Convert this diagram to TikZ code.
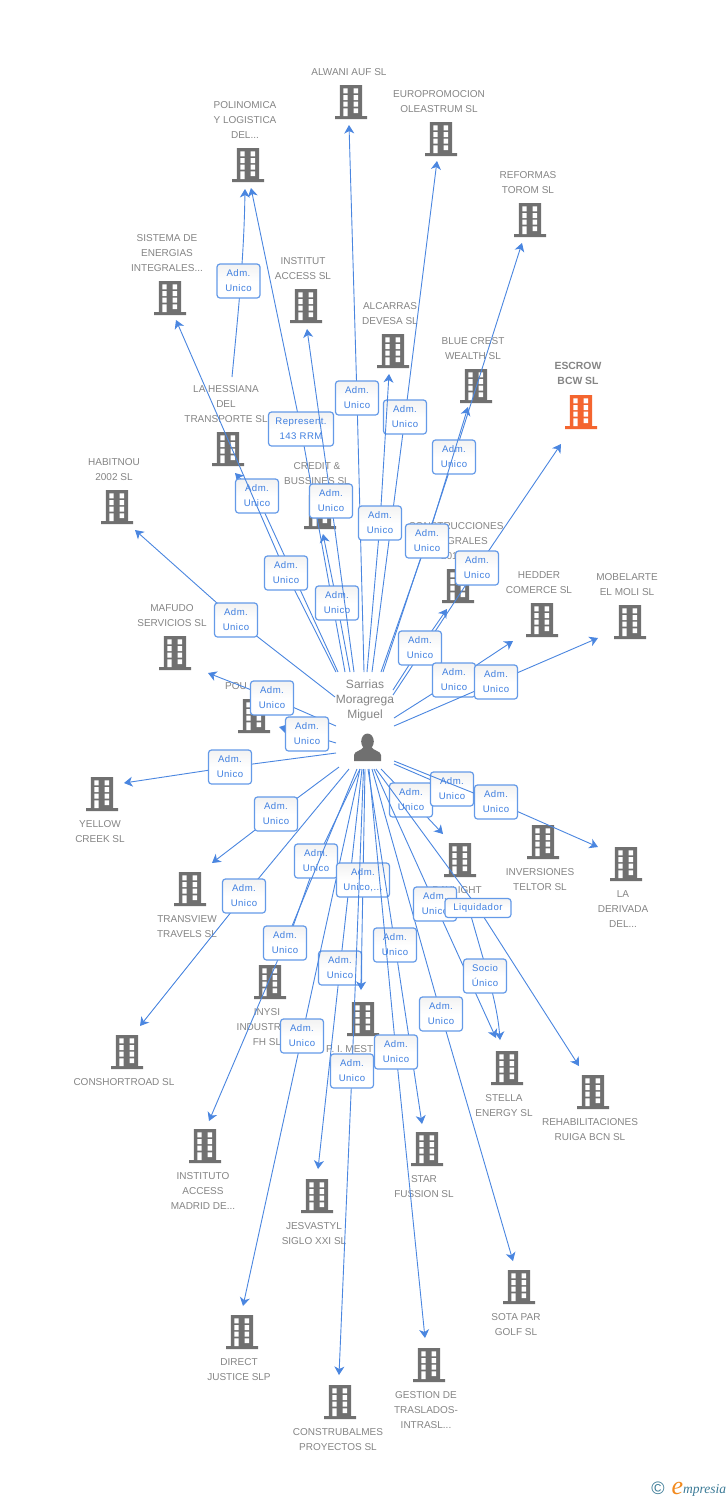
\documentclass[tikz,border=0pt]{standalone}
\usepackage{fontspec}
\setmainfont{Liberation Sans}
\newfontfamily\relfont[LetterSpace=5]{Liberation Sans}
\newfontfamily\logofont[Ligatures=TeX]{Liberation Serif}
\usetikzlibrary{arrows.meta}
\definecolor{bgrey}{HTML}{707070}
\definecolor{bor}{HTML}{F4652F}
\definecolor{tgrey}{HTML}{858585}
\definecolor{lnk}{HTML}{4A86E0}
\definecolor{bxb}{HTML}{649AE8}
\definecolor{bxt}{HTML}{3F7FE0}
\definecolor{logoteal}{HTML}{3A7A96}
\definecolor{logoor}{HTML}{F28A1E}
\tikzset{
 bld/.style={minimum width=32pt,minimum height=34pt,inner sep=0pt,outer sep=0pt,
  path picture={\begin{scope}[shift={(path picture bounding box.center)}]
   \fill[#1] (-11.2,-17) rectangle (11.2,14) (-16,14) rectangle (16,17);
   \fill[white] (-7.7,-13.7) rectangle (-3.3,-8.7) (2.5,-13.7) rectangle (7,-8.7)
     (-7.7,-7) rectangle (-3.3,-2) (2.5,-7) rectangle (7,-2)
     (-7.7,-.3) rectangle (-3.3,4.7) (2.5,-.3) rectangle (7,4.7)
     (-7.7,6.3) rectangle (-3.3,14) (2.5,6.3) rectangle (7,11);
  \end{scope}}},
 bld/.default=bgrey,
 persona/.style={minimum width=30pt,minimum height=34pt,inner sep=0pt,outer sep=0pt,
  path picture={\begin{scope}[shift={(path picture bounding box.center)}]
   \fill[bgrey] (0,-4.5) ellipse (6.3 and 8);
   \fill[bgrey] (-13.5,15) -- (-13.5,9) .. controls (-13.5,5) and (-6,5) .. (-4,1) -- (4,1)
     .. controls (6,5) and (13.5,5) .. (13.5,9) -- (13.5,15) -- cycle;
  \end{scope}}},
 lbl/.style={text=tgrey,align=center,inner sep=0pt,yshift=-.7pt,font=\fontsize{10}{15}\selectfont},
 lblb/.style={lbl,font=\fontsize{10.4}{15}\selectfont\bfseries},
 lblp/.style={lbl,font=\fontsize{12}{15}\selectfont},
 link/.style={draw=lnk,line width=.9pt},
 arrowed/.style={-{Stealth[length=8.5pt,width=10pt,inset=2.5pt]}},
 relbox/.style={rounded corners=3pt,draw=bxb,line width=1.2pt,top color=black!5,bottom color=white,middle color=white,
   text=bxt,align=center,inner sep=0pt,minimum width=43pt,minimum height=34pt,font=\relfont\fontsize{9.6}{15}\selectfont},
 widebox/.style={relbox,minimum width=65pt},
 midbox/.style={relbox,minimum width=53pt},
 slimbox/.style={relbox,minimum width=66pt,minimum height=19pt},
}
% id, start, box position, end, box style, text
\newcommand{\rel}[6]{%
  \coordinate (s#1) at (#2); \coordinate (m#1) at (#3); \coordinate (e#1) at (#4);
  \draw[link] (s#1) -- (m#1);
  \draw[link,arrowed] (m#1) -- (e#1);
  \node[#5] (r#1) at (m#1) {#6};
}
% id, start, control 1, control 2, end, box position, text
\newcommand{\relc}[7]{%
  \coordinate (s#1) at (#2); \coordinate (e#1) at (#5);
  \draw[link,arrowed] (s#1) .. controls (#3) and (#4) .. (e#1);
  \node[relbox] (r#1) at (#6) {#7};
}
\newcommand{\AU}{Adm.\\Unico}
\begin{document}
\begin{tikzpicture}[x=1pt,y=-1pt]
\useasboundingbox (0,0) rectangle (728,1500);
\fill[white] (0,0) rectangle (728,1500);
% buildings
\node[bld] (alwani) at (351,102) {};
\node[bld] (euro) at (441,139) {};
\node[bld] (reformas) at (530,220) {};
\node[bld] (polin) at (248,165) {};
\node[bld] (sistema) at (170,298) {};
\node[bld] (instacc) at (306,306) {};
\node[bld] (alcarras) at (393,351) {};
\node[bld] (bluecrest) at (476,386) {};
\node[bld=bor] (escrow) at (581,412) {};
\node[bld] (hessiana) at (228,449) {};
\node[bld] (habitnou) at (117,507) {};
\node[bld] (credit) at (320,512) {};
\node[bld] (constr) at (458,586) {};
\node[bld] (hedder) at (542,620) {};
\node[bld] (mobel) at (630,622) {};
\node[bld] (mafudo) at (175,653) {};
\node[bld] (pou) at (254,716) {};
\node[bld] (yellow) at (102,794) {};
\node[bld] (transview) at (190,889) {};
\node[bld] (invers) at (543,842) {};
\node[bld] (deriv) at (626,864) {};
\node[bld] (daylight) at (460,860) {};
\node[bld] (inysi) at (270,982) {};
\node[bld] (mest) at (363,1019) {};
\node[bld] (consh) at (127,1052) {};
\node[bld] (stella) at (507,1068) {};
\node[bld] (rehab) at (593,1092) {};
\node[bld] (instituto) at (205,1146) {};
\node[bld] (star) at (427,1149) {};
\node[bld] (jesva) at (317,1196) {};
\node[bld] (sota) at (519,1287) {};
\node[bld] (direct) at (242,1332) {};
\node[bld] (gestion) at (429,1365) {};
\node[bld] (construb) at (340,1402) {};
\node[persona] (sarrias) at (367.5,746) {};
% labels
\node[lbl] (l1) at (349,71) {ALWANI AUF SL};
\node[lbl] (l2) at (439,100.5) {EUROPROMOCION\\OLEASTRUM SL};
\node[lbl] (l3) at (528,181.5) {REFORMAS\\TOROM SL};
\node[lbl] (l4) at (245,119) {POLINOMICA\\Y LOGISTICA\\DEL...};
\node[lbl] (l5) at (167,252) {SISTEMA DE\\ENERGIAS\\INTEGRALES...};
\node[lbl] (l6) at (303,267.5) {INSTITUT\\ACCESS SL};
\node[lbl] (l7) at (390,312.5) {ALCARRAS\\DEVESA SL};
\node[lbl] (l8) at (473,347.5) {BLUE CREST\\WEALTH SL};
\node[lblb] (l9) at (578,372.5) {ESCROW\\BCW SL};
\node[lbl] (l10) at (226,403) {LA HESSIANA\\DEL\\TRANSPORTE SL};
\node[lbl] (l11) at (114,468.5) {HABITNOU\\2002 SL};
\node[lbl] (l12) at (317,472.5) {CREDIT \&\\BUSSINES SL};
\node[lbl] (l13) at (456,540) {CONSTRUCCIONES\\INTEGRALES\\2011...};
\node[lbl] (l14) at (539,581.5) {HEDDER\\COMERCE SL};
\node[lbl] (l15) at (627,583.5) {MOBELARTE\\EL MOLI SL};
\node[lbl] (l16) at (172,614.5) {MAFUDO\\SERVICIOS SL};
\node[lbl,anchor=west] (l17) at (225,685) {POU};
\node[lbl] (l18) at (100,830.5) {YELLOW\\CREEK SL};
\node[lbl] (l19) at (187,925.5) {TRANSVIEW\\TRAVELS SL};
\node[lbl] (l20) at (540,878.5) {INVERSIONES\\TELTOR SL};
\node[lbl] (l21) at (623,908) {LA\\DERIVADA\\DEL...};
\node[lbl] (l22) at (457,889) {DAYLIGHT};
\node[lbl] (l23) at (267,1026) {INYSI\\INDUSTRIES\\FH SL};
\node[lbl,anchor=west] (l24) at (326,1048) {P. I. MEST};
\node[lbl] (l25) at (124,1081) {CONSHORTROAD SL};
\node[lbl] (l26) at (504,1104.5) {STELLA\\ENERGY SL};
\node[lbl] (l27) at (590,1128.5) {REHABILITACIONES\\RUIGA BCN SL};
\node[lbl] (l28) at (203,1190) {INSTITUTO\\ACCESS\\MADRID DE...};
\node[lbl] (l29) at (424,1185.5) {STAR\\FUSSION SL};
\node[lbl] (l30) at (314,1232.5) {JESVASTYL\\SIGLO XXI SL};
\node[lbl] (l31) at (516,1323.5) {SOTA PAR\\GOLF SL};
\node[lbl] (l32) at (239,1368.5) {DIRECT\\JUSTICE SLP};
\node[lbl] (l33) at (426,1409) {GESTION DE\\TRASLADOS-\\INTRASL...};
\node[lbl] (l34) at (338,1438.5) {CONSTRUBALMES\\PROYECTOS SL};
\node[lblp] (l35) at (365,700) {Sarrias\\Moragrega\\Miguel};
% relations, upper fan
\relc{hp}{232,377}{239,305}{244,255}{245,189}{238.5,281}{\AU}
\rel{rep}{345,672}{301,429}{251,188}{widebox}{Represent.\\143 RRM}
\rel{alw}{364,672}{357,398}{349,125}{relbox}{\AU}
\rel{eur}{372,672}{405,417}{437,161}{relbox}{\AU}
\rel{alc}{367,672}{380,523}{389,374}{relbox}{\AU}
\rel{ref}{383,672}{454,457}{522,243}{relbox}{\AU}
\rel{blu}{381,672}{427,541}{468,407}{relbox}{\AU}
\rel{esc}{393,695}{477,568}{561,444}{relbox}{\AU}
\rel{con}{393,690}{420,648}{447,609}{relbox}{\AU}
\rel{hes}{338,672}{257,496}{235,473}{relbox}{\AU}
\rel{sis}{336,672}{286,573}{176,320}{relbox}{\AU}
\rel{cre}{350,672}{337,603}{323,534}{relbox}{\AU}
\rel{ins}{354,672}{331,501}{307,329}{relbox}{\AU}
\rel{hab}{335,697}{236,620}{135,530}{relbox}{\AU}
\rel{maf}{336,726}{272,698}{208,673}{relbox}{\AU}
\rel{pou}{336,743}{307,734}{279,727}{relbox}{\AU}
\rel{yel}{336,753}{230,767}{124,783}{relbox}{\AU}
\rel{hed}{394,718}{454,680}{513,641}{relbox}{\AU}
\rel{mob}{394,726}{496,682}{598,638}{relbox}{\AU}
% relations, lower fan
\rel{tra}{339,767}{276,814}{212,863}{relbox}{\AU}
\rel{csh}{349,769}{244,896}{140,1026}{relbox}{\AU}
\rel{iny}{360,769}{316,861}{283,955}{relbox}{\AU}
\rel{ito}{357,769}{285,943}{209,1121}{relbox}{\AU}
\rel{jes}{362,769}{340,968}{318,1169}{relbox}{\AU}
\rel{dir}{360,769}{302,1036}{243,1306}{relbox}{\AU}
\rel{mes}{365,769}{363,880}{361,990}{midbox}{Adm.\\Unico,...}
\rel{cob}{363.5,769}{352,1071}{339,1375}{relbox}{\AU}
\rel{sta}{368,769}{395,945}{422,1124}{relbox}{\AU}
\rel{ges}{369,769}{396,1052}{425,1338}{relbox}{\AU}
\rel{sot}{372,769}{441,1014}{513,1261}{relbox}{\AU}
\rel{day}{381,769}{411,800}{443,834}{relbox}{\AU}
\rel{inv}{394,764}{452,789}{513,812}{relbox}{\AU}
\rel{der}{394,761}{496,802}{598,847}{relbox}{\AU}
\rel{ste}{374,769}{435,904}{496,1038}{relbox}{\AU}
\relc{sol}{468,905}{483,960}{497,1000}{500,1040}{485,976}{Socio\\Único}
\rel{reh}{376,769}{478,908}{579,1066}{slimbox}{Liquidador}
% credit mark
\node[inner sep=0pt,text=logoteal] (copy) at (658,1488) {\fontsize{18}{18}\selectfont ©};
\node[inner sep=0pt,text=logoor,anchor=base] (logoe) at (677.5,1494) {\logofont\itshape\fontsize{26}{26}\selectfont e};
\node[inner sep=0pt,anchor=base west,text=logoteal] (logot) at (683,1493) {\logofont\itshape\fontsize{13.5}{13.5}\selectfont mpresia};
\end{tikzpicture}
\end{document}
